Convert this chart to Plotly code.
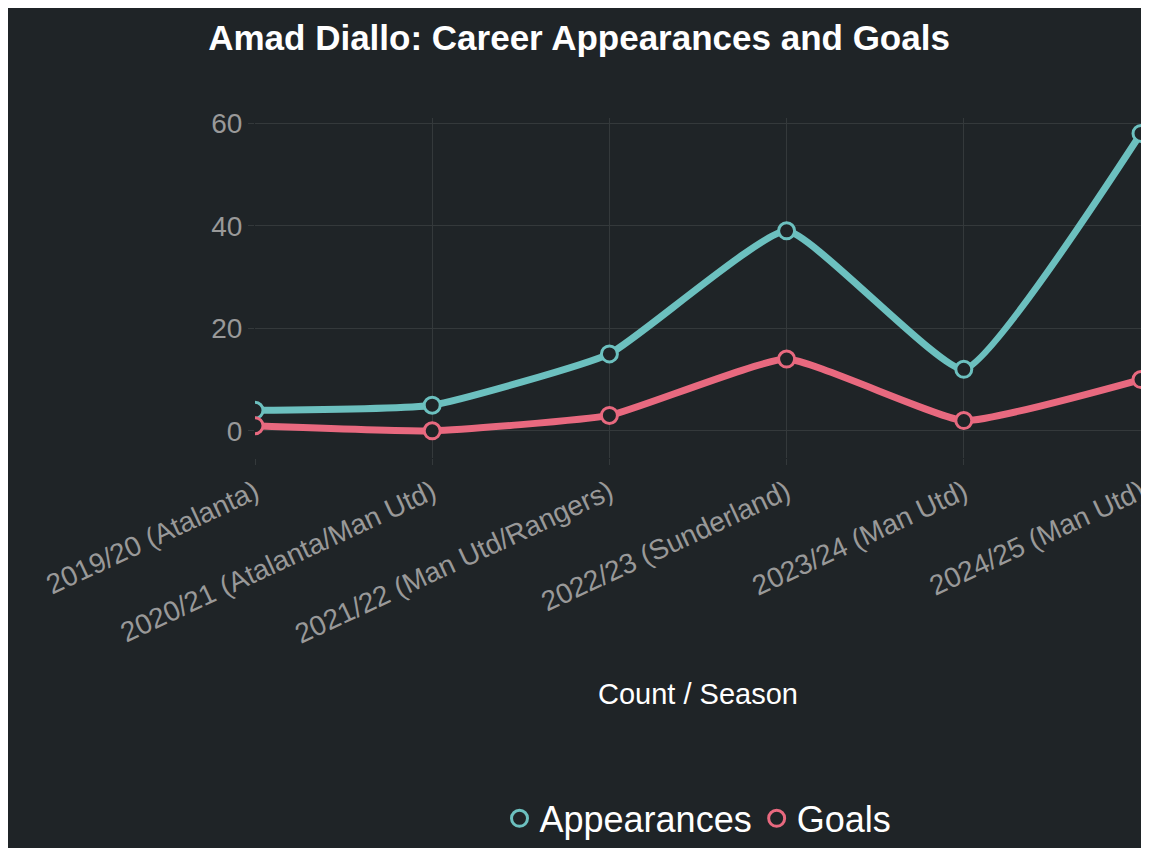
import plotly.graph_objects as go

seasons = ["2019/20 (Atalanta)", "2020/21 (Atalanta/Man Utd)", "2021/22 (Man Utd/Rangers)",
           "2022/23 (Sunderland)", "2023/24 (Man Utd)", "2024/25 (Man Utd)"]
appearances = [4, 5, 15, 39, 12, 58]
goals = [1, 0, 3, 14, 2, 10]

bg = "#1f2427"
fig = go.Figure()
for name, vals, col in [("Appearances", appearances, "#6cc0bf"), ("Goals", goals, "#e8697f")]:
    fig.add_trace(go.Scatter(x=seasons, y=vals, name=name, mode="lines+markers", showlegend=False,
                             line=dict(color=col, width=7, shape="spline", smoothing=0.4),
                             marker=dict(size=16, color=bg, line=dict(color=col, width=3))))
    fig.add_trace(go.Scatter(x=[None], y=[None], name=name, mode="markers",
                             marker=dict(size=26, color=bg, line=dict(color=col, width=3))))
fig.update_layout(
    width=1149, height=848, paper_bgcolor=bg, plot_bgcolor=bg,
    font=dict(family="Liberation Sans, Arial, sans-serif", color="#999999", size=28),
    title=dict(text="<b>Amad Diallo: Career Appearances and Goals</b>", x=0.497, y=0.965,
               xanchor="center", yanchor="middle", font=dict(size=35, color="white")),
    margin=dict(l=247, r=16, t=110, b=398, autoexpand=False),
    xaxis=dict(title=dict(text="Count / Season", font=dict(color="white", size=29), standoff=35),
               tickangle=-25, range=[0, 5], gridcolor="#34393b", showline=False, zeroline=False,
               ticks="outside", ticklen=6, tickcolor="#34393b", automargin=False),
    yaxis=dict(range=[-5.3, 61], tickvals=[0, 20, 40, 60], gridcolor="#34393b",
               zeroline=False, ticks="outside", ticklen=6, tickcolor="#34393b", automargin=False),
    legend=dict(orientation="h", x=0.5, xanchor="center", y=-1.06, yanchor="middle",
                font=dict(size=36, color="white"), itemsizing="trace"),
)
fig.write_html("out.html")
